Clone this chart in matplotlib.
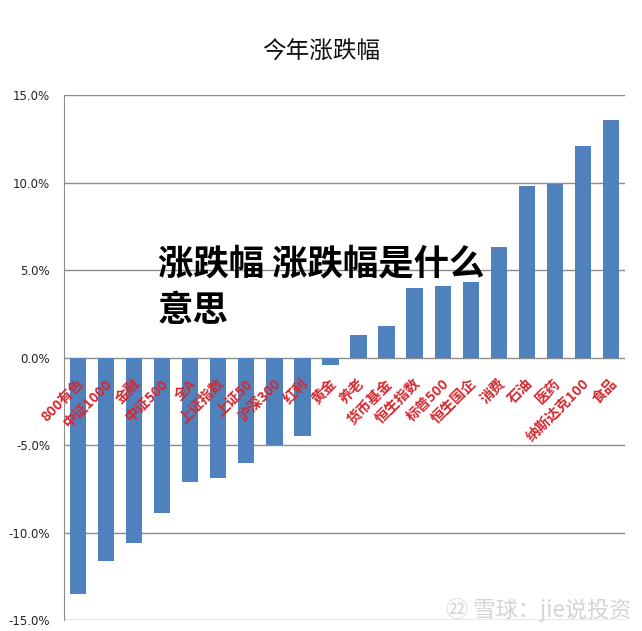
import matplotlib.pyplot as plt
from matplotlib.ticker import FuncFormatter

plt.rcParams['font.family'] = ['Noto Sans CJK SC', 'DejaVu Sans']

# 品种与今年涨跌幅 (%)
categorias = ['800有色', '中证1000', '金融', '中证500', '全A', '上证指数', '上证50',
              '沪深300', '红利', '黄金', '养老', '货币基金', '恒生指数', '标普500',
              '恒生国企', '消费', '石油', '医药', '纳斯达克100', '食品']
valores = [-13.5, -11.6, -10.6, -8.9, -7.1, -6.9, -6.0, -5.0, -4.5, -0.4,
           1.3, 1.8, 4.0, 4.1, 4.3, 6.3, 9.8, 9.9, 12.1, 13.6]
ticks_y = [-15, -10, -5, 0, 5, 10, 15]

fig = plt.figure(figsize=(6.42, 6.31), dpi=100)
ax = fig.add_axes([64 / 642, 1 - 620 / 631, 561 / 642, 525 / 631])

pos = list(range(len(categorias)))
ax.bar(pos, valores, width=0.58, color='#4f81bd', zorder=3)

ax.set_xlim(-0.5, len(categorias) - 0.5)
ax.set_ylim(-15, 15)
ax.set_yticks(ticks_y)
ax.yaxis.set_major_formatter(FuncFormatter(lambda v, p: f'{v:.1f}%'))
ax.grid(axis='y', color='#8c8c8c', linewidth=1.0, zorder=0)
ax.set_axisbelow(True)

for lado in ['top', 'right', 'bottom']:
    ax.spines[lado].set_visible(False)
ax.spines['left'].set_color('#8c8c8c')
ax.tick_params(axis='y', length=0, pad=10, labelsize=8.5, labelcolor='#222222')
for t in ax.get_yticklabels():
    t.set_family('DejaVu Sans')

# rótulos das categorias junto à linha do zero
ax.set_xticks([])
for i, nome in enumerate(categorias):
    ax.annotate(nome, xy=(i, 0), xytext=(4, -24), textcoords='offset pixels',
                rotation=45, rotation_mode='anchor', ha='right', va='center',
                fontsize=10.3, fontweight='bold', color='#d6282f')

fig.text(0.5, 1 - 52 / 631, '今年涨跌幅', ha='center', va='center', fontsize=17,
         fontweight='medium', color='#111111')

# marcas sobrepostas na imagem
fig.text(158 / 642, 1 - 246 / 631, '涨跌幅 涨跌幅是什么\n意思', ha='left', va='top',
         fontsize=25.5, fontweight='heavy', color='black', linespacing=1.42)
fig.text(632 / 642, 1 - 610 / 631, '㉒ 雪球：jie说投资', ha='right', va='center',
         fontsize=16, color='#d4d4d4')

fig.savefig('out.png', dpi=100)
